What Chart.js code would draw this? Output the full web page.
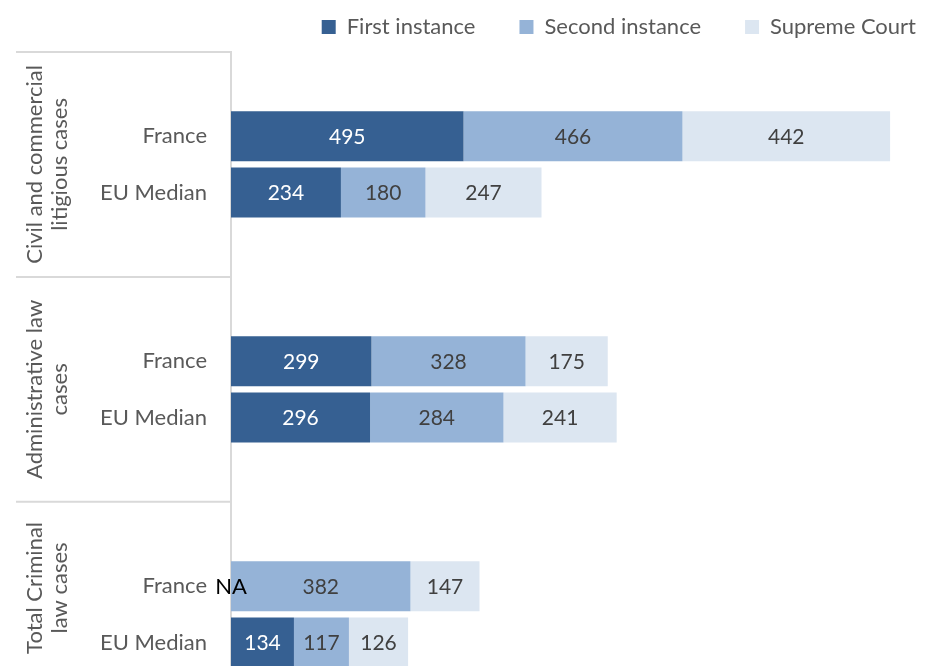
<!DOCTYPE html>
<html>
<head>
<meta charset="utf-8">
<script src="https://cdn.jsdelivr.net/npm/chart.js"></script>
<style>
  html, body { margin: 0; padding: 0; background: #fff; overflow: hidden; }
  #wrap { width: 938px; height: 764px; }
</style>
</head>
<body>
<div id="wrap"><canvas id="myChart" width="938" height="764"></canvas></div>
<script>
const groups = [
  ["Civil and commercial", "litigious cases"],
  ["Administrative law", "cases"],
  ["Total Criminal", "law cases"]
];
const categories = ["France", "EU Median"];
// one value per row: group 1 France, group 1 EU Median, group 2 France, ...
const firstInstance = [495, 234, 299, 296, null, 134];
const secondInstance = [466, 180, 328, 284, 382, 117];
const supremeCourt = [442, 247, 175, 241, 147, 126];

const colors = ["#366092", "#95b3d7", "#dce6f1"];
const fontFamily = "Lato, 'Open Sans', sans-serif";
const textGray = "#595959";

// every group takes 4 rows: blank, France, EU Median, blank
const labels = [];
const pad = (arr, missing) => {
  const out = [];
  for (let g = 0; g < groups.length; g++) {
    out.push(null);
    for (let c = 0; c < categories.length; c++) {
      const v = arr[g * categories.length + c];
      out.push(v === null ? missing : v);
    }
    out.push(null);
  }
  return out;
};
groups.forEach(() => labels.push("", ...categories, ""));

const valueLabels = {
  id: "valueLabels",
  afterDatasetsDraw(chart) {
    const ctx = chart.ctx;
    ctx.save();
    ctx.textAlign = "center";
    ctx.textBaseline = "middle";
    chart.data.datasets.forEach((ds, i) => {
      const meta = chart.getDatasetMeta(i);
      meta.data.forEach((bar, j) => {
        const v = ds.data[j];
        if (v === null) return;
        const p = bar.getCenterPoint();
        if (v === 0) {
          ctx.font = "22px " + fontFamily;
          ctx.fillStyle = "#000";
          ctx.fillText("NA", p.x, p.y + 1);
          return;
        }
        ctx.font = "21px " + fontFamily;
        ctx.fillStyle = i === 0 ? "#ffffff" : "#404040";
        ctx.fillText(String(v), p.x, p.y + 1);
      });
    });
    ctx.restore();
  }
};

const groupLabels = {
  id: "groupLabels",
  afterDraw(chart) {
    const ctx = chart.ctx;
    const y = chart.scales.y;
    const area = chart.chartArea;
    const step = y.getPixelForValue(1) - y.getPixelForValue(0);
    ctx.save();
    ctx.strokeStyle = "#d9d9d9";
    ctx.lineWidth = 2;
    for (let g = 0; g <= groups.length; g++) {
      const py = y.getPixelForValue(g * 4) - step / 2;
      ctx.beginPath();
      ctx.moveTo(16, py);
      ctx.lineTo(area.left, py);
      ctx.stroke();
    }
    ctx.fillStyle = textGray;
    ctx.font = "22px " + fontFamily;
    ctx.textAlign = "center";
    ctx.textBaseline = "middle";
    // last group runs past the window, keep its label in the visible part
    const visibleBottom = window.innerHeight + 8;
    groups.forEach((lines, g) => {
      const top = y.getPixelForValue(g * 4) - step / 2;
      const bottom = Math.min(y.getPixelForValue(g * 4 + 3) + step / 2, visibleBottom);
      const cy = (top + bottom) / 2;
      ctx.save();
      ctx.translate(47, cy);
      ctx.rotate(-Math.PI / 2);
      lines.forEach((t, k) => ctx.fillText(t, 0, (k - (lines.length - 1) / 2) * 25));
      ctx.restore();
    });
    ctx.restore();
  }
};

new Chart(document.getElementById("myChart"), {
  type: "bar",
  data: {
    labels: labels,
    datasets: [
      { label: "First instance", data: pad(firstInstance, 0), backgroundColor: colors[0] },
      { label: "Second instance", data: pad(secondInstance, null), backgroundColor: colors[1] },
      { label: "Supreme Court", data: pad(supremeCourt, null), backgroundColor: colors[2] }
    ]
  },
  options: {
    indexAxis: "y",
    responsive: false,
    animation: false,
    categoryPercentage: 1,
    barPercentage: 0.89,
    layout: { padding: { top: -28, right: -22, bottom: 0, left: 0 } },
    scales: {
      x: {
        stacked: true, min: 0, max: 1505, position: "top",
        ticks: { display: false },
        grid: { display: false, drawTicks: false },
        border: { display: false },
        title: { display: true, text: " ", font: { size: 4, lineHeight: 1 }, padding: 0 }
      },
      y: {
        stacked: true,
        grid: { display: false, drawTicks: false },
        border: { display: true, color: "#d9d9d9", width: 2 },
        ticks: { color: textGray, font: { family: fontFamily, size: 22 }, padding: 24 },
        afterFit(scale) { scale.width = 231; }
      }
    },
    plugins: {
      legend: {
        position: "top",
        align: "end",
        labels: {
          boxWidth: 14,
          boxHeight: 14,
          padding: 44,
          color: textGray,
          font: { family: fontFamily, size: 22 }
        }
      },
      tooltip: { enabled: false }
    }
  },
  plugins: [valueLabels, groupLabels]
});
</script>
</body>
</html>
